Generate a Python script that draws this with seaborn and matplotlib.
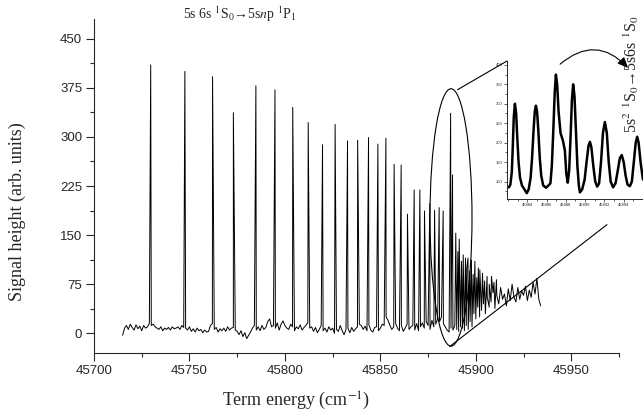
import numpy as np
import pandas as pd
import matplotlib.pyplot as plt
import seaborn as sns
from matplotlib.patches import Ellipse, FancyArrowPatch, ConnectionPatch
from matplotlib.ticker import MultipleLocator, FixedLocator

# --- main spectrum: sharp resonances ---
peak_energy = [45729.7, 45747.6, 45762.1, 45773.0, 45784.8, 45794.8, 45804.1, 45812.2,
               45819.7, 45826.3, 45832.8, 45838.1, 45843.8, 45848.7, 45852.9, 45857.2,
               45860.9, 45864.2, 45867.7, 45870.7, 45873.1, 45875.9, 45878.4, 45880.8,
               45882.9, 45886.8, 45887.8, 45889.5, 45890.6, 45891.3, 45892.5, 45893.4,
               45894.6, 45895.3, 45895.9, 45896.8, 45897.7, 45898.6, 45899.5, 45900.5,
               45901.3, 45902.1, 45903.5, 45904.6, 45905.9, 45907.0, 45908.2, 45909.5,
               45910.8]
peak_height = [410, 400, 392, 337, 378, 372, 345, 322,
               288, 319, 294, 295, 299, 289, 298, 258,
               257, 182, 219, 219, 187, 198, 188, 192,
               187, 336, 242, 153, 125, 144, 110, 120,
               115, 100, 115, 95, 112, 90, 110, 85,
               100, 97, 92, 80, 87, 75, 87, 78,
               82]

# background trace, one reading per cm-1 from 45715 to 45934
base_start = 45715
baseline = [-3, 8, 12, 6, 14, 9, 5, 13, 7, 11,
            4, 12, 8, 10, 15, 12, 14, 10, 8, 6,
            10, 4, 8, 6, 9, 5, 10, 7, 8, 10,
            6, 12, 9, 8, 5, 10, 3, 7, 2, 8,
            4, 6, 1, 5, 2, 3, 12, 15, 6, 9,
            2, 7, 4, 8, 3, 10, 5, 8, 9, 5,
            3, -2, 4, -5, 1, -8, -3, 2, 8, 12,
            5, 10, 4, 12, 6, 9, 18, 22, 10, 12,
            8, 16, 5, 14, 19, 12, 8, 6, 14, 10,
            4, 10, 7, 13, 5, 9, 12, 16, 8, 10,
            3, 9, 1, 6, 12, 4, 8, 2, 10, 5,
            8, 0, 6, 3, 12, 4, -2, 6, 8, 1,
            9, 3, 7, 10, 14, 12, 6, 11, 4, 13,
            5, 2, 9, 10, 4, 8, 14, 12, 25, 20,
            12, 6, 10, 15, 8, 4, 12, 3, 8, 14,
            6, 10, 12, 5, 15, 4, 10, 16, 8, 18,
            12, 6, 20, 10, 14, 22, 18, 25, 15, 10,
            5, 2, 8, 5, 12, 6, 3, 10, 8, 4,
            12, 6, 18, 10, 30, 22, 40, 25, 35, 45,
            30, 55, 40, 48, 62, 38, 58, 45, 70, 52,
            60, 42, 68, 50, 75, 55, 48, 70, 52, 65,
            58, 72, 50, 66, 55, 78, 60, 84, 52, 42]

# --- inset: zoomed scan of the 5s2 1S0 -> 5s6s 1S0 region ---
inset_energy = [45882.1, 45882.25, 45882.4, 45882.5, 45882.6, 45882.72, 45882.85, 45882.95,
                45883.1, 45883.25, 45883.45, 45883.7, 45883.95,
                45884.15, 45884.35, 45884.5, 45884.65, 45884.78, 45884.9, 45885.02, 45885.15,
                45885.3, 45885.45, 45885.65, 45885.95,
                45886.2, 45886.4, 45886.55, 45886.7, 45886.85, 45886.97, 45887.1, 45887.25,
                45887.45, 45887.7, 45887.9, 45888.05, 45888.2,
                45888.35, 45888.5, 45888.63, 45888.76, 45888.9, 45889.05, 45889.2, 45889.35,
                45889.46,
                45889.7, 45889.95, 45890.15, 45890.35, 45890.5, 45890.65, 45890.85, 45891.05,
                45891.25,
                45891.45, 45891.65, 45891.85, 45892.05, 45892.25, 45892.45, 45892.65, 45892.9,
                45893.15, 45893.4, 45893.6, 45893.8, 45894.0, 45894.2, 45894.4, 45894.64,
                45894.85, 45895.05, 45895.25, 45895.4, 45895.55, 45895.75, 45896.0]
inset_signal = [85, 92, 125, 190, 265, 300, 275, 220,
                150, 110, 90, 80, 70,
                80, 110, 160, 230, 280, 295, 280, 230,
                160, 115, 90, 84,
                90, 95, 140, 230, 330, 375, 350, 280,
                225, 205, 180, 120, 97,
                130, 220, 310, 350, 320, 230, 140, 90,
                72,
                80, 105, 150, 192, 202, 188, 140, 100,
                87,
                95, 150, 225, 253, 225, 150, 100, 85,
                95, 130, 160, 168, 150, 115, 92, 88,
                100, 150, 200, 215, 200, 150, 105]
inset_ticks = [45884, 45886, 45888, 45890, 45892, 45894]

# merge background and resonances into one trace
base_energy = np.arange(base_start, base_start + len(baseline))
trace = pd.DataFrame({
    'energy': np.concatenate([base_energy, peak_energy]),
    'signal': np.concatenate([baseline, peak_height]),
}).sort_values('energy', kind='stable')
inset_df = pd.DataFrame({'energy': inset_energy, 'signal': inset_signal})

sns.set_style("ticks")
plt.rcParams['font.family'] = ['Liberation Sans', 'DejaVu Sans']
plt.rcParams['mathtext.fontset'] = 'stix'
serif = ['Liberation Serif', 'DejaVu Serif']

fig = plt.figure(figsize=(6.43, 4.18), dpi=100)
ax = fig.add_axes([94 / 643, 1 - 353 / 418, 525 / 643, 334 / 418])

sns.lineplot(data=trace, x='energy', y='signal', estimator=None, sort=False,
             color='black', lw=0.7, ax=ax)
ax.set_xlim(45700, 45975)
ax.set_ylim(-30, 480)
ax.xaxis.set_major_locator(MultipleLocator(50))
ax.xaxis.set_minor_locator(MultipleLocator(25))
ax.yaxis.set_major_locator(MultipleLocator(75))
ax.yaxis.set_minor_locator(MultipleLocator(37.5))
ax.tick_params(which='major', direction='out', length=6, width=0.8, labelsize=9.5, pad=2.5)
ax.tick_params(which='minor', direction='out', length=3, width=0.8)
sns.despine(ax=ax)
for s in ax.spines.values():
    s.set_linewidth(0.8)
ax.set_xlabel('')
ax.set_ylabel('')

fig.text(296 / 643, 1 - 401 / 418, 'Term energy (cm$^{-1}$)', ha='center', va='center',
         fontsize=13, family=serif)
fig.text(17.5 / 643, 1 - 212 / 418, 'Signal height (arb. units)', ha='center', va='center',
         rotation=90, fontsize=13, family=serif)
fig.text(240 / 643, 1 - 14 / 418, '5s 6s $^1$S$_0$\u21925s$n$p $^1$P$_1$',
         ha='center', va='center', fontsize=10, family=serif)

# ellipse marking the zoomed region
ax.add_patch(Ellipse((45887, 177), 22, 393, fill=False, ec='black', lw=0.8))
ax.plot([45886.4, 45968.7], [-20, 166], color='black', lw=0.8)

# inset
ins = fig.add_axes([507 / 643, 1 - 199 / 418, 162 / 643, 138 / 418])
ins.patch.set_alpha(0)
sns.lineplot(data=inset_df, x='energy', y='signal', estimator=None, sort=False,
             color='black', lw=1.8, ax=ins)
ins.set_xlim(45881.9, 45898.7)
ins.set_ylim(55, 410)
ins.xaxis.set_major_locator(FixedLocator(inset_ticks))
ins.xaxis.set_minor_locator(MultipleLocator(1))
ins.yaxis.set_major_locator(MultipleLocator(50))
ins.yaxis.set_minor_locator(MultipleLocator(25))
ins.tick_params(which='major', direction='out', length=2, width=0.5, labelsize=3, pad=1)
ins.tick_params(which='minor', direction='out', length=1.2, width=0.5)
sns.despine(ax=ins)
for s in ins.spines.values():
    s.set_linewidth(0.7)
ins.set_xlabel('')
ins.set_ylabel('')

con = ConnectionPatch(xyA=(45890.4, 372), coordsA=ax.transData,
                      xyB=(45881.9, 410), coordsB=ins.transData, color='black', lw=0.8)
fig.add_artist(con)

arrow = FancyArrowPatch((558 / 643, 1 - 66 / 418), (630 / 643, 1 - 70 / 418),
                        transform=fig.transFigure, connectionstyle='arc3,rad=-0.5',
                        arrowstyle='-|>,head_length=0.8,head_width=0.35',
                        mutation_scale=8, lw=0.8, color='black')
fig.add_artist(arrow)

fig.text(637 / 643, 1 - 133 / 418, '5s$^2$ $^1$S$_0$\u21925s6s $^1$S$_0$',
         rotation=90, rotation_mode='anchor', ha='left', va='baseline',
         fontsize=11.5, family=serif)

fig.savefig('out.png', dpi=100)
